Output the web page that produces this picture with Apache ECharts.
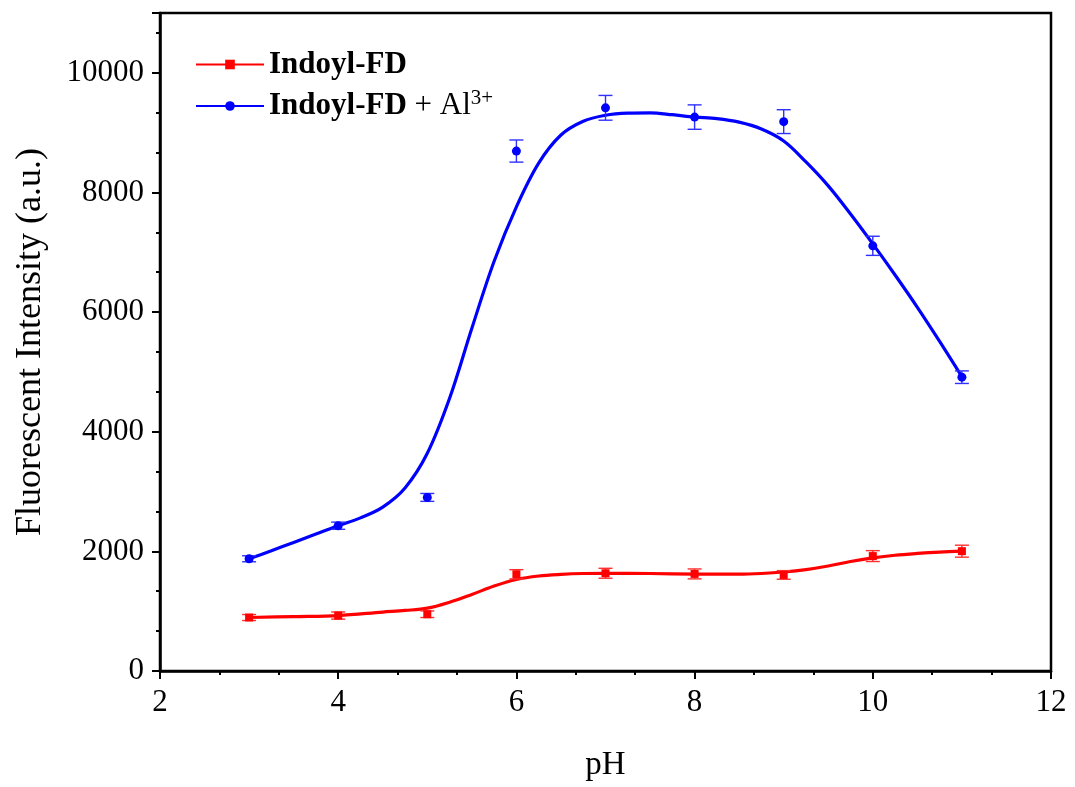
<!DOCTYPE html>
<html>
<head>
<meta charset="utf-8">
<script src="https://cdn.jsdelivr.net/npm/echarts@6/dist/echarts.min.js"></script>
<style>
html,body{margin:0;padding:0;background:#fff;}
#chart{width:1075px;height:787px;}
</style>
</head>
<body>
<div id="chart"></div>
<script>
// ---- data ----
const phValues = [3, 4, 5, 6, 7, 8, 9, 10, 11];
const fdMean = [894, 927, 949, 1617, 1634, 1623, 1606, 1921, 2003];
const fdErr  = [50, 60, 55, 77, 83, 83, 72, 91, 100];
const alMean = [1876, 2429, 2902, 8692, 9415, 9260, 9184, 7108, 4912];
const alErr  = [50, 60, 66, 185, 207, 204, 199, 160, 105];

// fitted curves
const fdCurvePH  = [3.0, 3.5, 4.0, 4.5, 4.75, 5.0, 5.25, 5.5, 5.75, 6.0, 6.25, 6.5, 6.75, 7.0, 7.5, 8.0, 8.5, 8.75, 9.0, 9.25, 9.5, 9.75, 10.0, 10.25, 10.5, 10.75, 11.0];
const fdCurveVal = [894, 910, 927, 985, 1012, 1050, 1150, 1280, 1420, 1530, 1588, 1615, 1630, 1634, 1630, 1620, 1618, 1630, 1655, 1695, 1755, 1830, 1890, 1935, 1965, 1988, 2003];
const alCurvePH  = [3.0, 3.25, 3.5, 3.75, 4.0, 4.25, 4.5, 4.75, 5.0, 5.25, 5.5, 5.75, 6.0, 6.25, 6.5, 6.75, 7.0, 7.25, 7.5, 7.75, 8.0, 8.25, 8.5, 8.75, 9.0, 9.25, 9.5, 9.75, 10.0, 10.25, 10.5, 10.75, 11.0];
const alCurveVal = [1876, 2010, 2150, 2290, 2429, 2560, 2740, 3060, 3640, 4560, 5730, 6850, 7760, 8490, 8960, 9190, 9290, 9325, 9330, 9300, 9260, 9235, 9175, 9060, 8860, 8510, 8110, 7640, 7140, 6620, 6080, 5510, 4920];

const xTicks = [2, 4, 6, 8, 10, 12];
const yTicks = [0, 2000, 4000, 6000, 8000, 10000];

const nameFD = 'Indoyl-FD';
const nameAL = 'Indoyl-FD + Al3+';
const RED = '#ff0000';
const BLUE = '#0000ff';
const FONT = '"Liberation Serif", "Times New Roman", serif';

function pairs(xs, ys) { return xs.map((x, i) => [x, ys[i]]); }
function errData(xs, m, e) { return xs.map((x, i) => [x, m[i] - e[i], m[i] + e[i]]); }

function errorBars(color) {
  return function (params, api) {
    const x = api.value(0);
    const lo = api.coord([x, api.value(1)]);
    const hi = api.coord([x, api.value(2)]);
    const w = 7;
    const st = { stroke: color, lineWidth: 1.4 };
    return {
      type: 'group',
      children: [
        { type: 'line', shape: { x1: lo[0], y1: lo[1], x2: hi[0], y2: hi[1] }, style: st },
        { type: 'line', shape: { x1: lo[0] - w, y1: lo[1], x2: lo[0] + w, y2: lo[1] }, style: st },
        { type: 'line', shape: { x1: hi[0] - w, y1: hi[1], x2: hi[0] + w, y2: hi[1] }, style: st }
      ]
    };
  };
}

const chart = echarts.init(document.getElementById('chart'), null, { renderer: 'canvas' });

const axisCommon = {
  axisLine: { show: true, onZero: false, lineStyle: { color: '#000', width: 2.5 } },
  axisTick: { show: true, inside: false, length: 8, lineStyle: { color: '#000', width: 2 } },
  minorTick: { show: true, splitNumber: 3, length: 4, lineStyle: { color: '#000', width: 2 } },
  splitLine: { show: false },
  minorSplitLine: { show: false },
  axisLabel: { color: '#000', fontFamily: FONT, fontSize: 31 },
  nameTextStyle: { color: '#000', fontFamily: FONT, fontSize: 33 }
};

chart.setOption({
  backgroundColor: '#ffffff',
  animation: false,
  grid: { left: 160, right: 24, top: 13, bottom: 111, show: true, borderColor: '#000', borderWidth: 2.5, backgroundColor: 'transparent' },
  legend: {
    show: true,
    orient: 'vertical',
    left: 190,
    top: 44,
    itemWidth: 68,
    itemHeight: 12,
    itemGap: 8,
    data: [nameFD, nameAL],
    formatter: function (n) {
      return n === nameFD ? '{b|Indoyl-FD}' : '{b|Indoyl-FD}{n| + Al}{s|3+}';
    },
    textStyle: {
      color: '#000',
      fontFamily: FONT,
      rich: {
        b: { fontFamily: FONT, fontSize: 31, fontWeight: 'bold', color: '#000', lineHeight: 36 },
        n: { fontFamily: FONT, fontSize: 31, color: '#000', lineHeight: 36 },
        s: { fontFamily: FONT, fontSize: 21, color: '#000', lineHeight: 18, verticalAlign: 'top' }
      }
    }
  },
  xAxis: Object.assign({}, axisCommon, {
    type: 'value',
    min: 2, max: 12, interval: 2,
    name: 'pH',
    nameLocation: 'middle',
    nameGap: 78,
    axisLabel: Object.assign({}, axisCommon.axisLabel, {
      margin: 16,
      customValues: xTicks,
      formatter: v => String(v)
    })
  }),
  yAxis: Object.assign({}, axisCommon, {
    type: 'value',
    min: 0, max: 11000, interval: 2000,
    name: 'Fluorescent Intensity (a.u.)',
    nameLocation: 'middle',
    nameGap: 111,
    nameTextStyle: { color: '#000', fontFamily: FONT, fontSize: 36 },
    axisLabel: Object.assign({}, axisCommon.axisLabel, {
      margin: 16,
      formatter: v => (yTicks.indexOf(v) >= 0 ? String(v) : '')
    })
  }),
  series: [
    {
      name: nameFD, type: 'line', data: pairs(fdCurvePH, fdCurveVal),
      smooth: 0.35, showSymbol: false, symbol: 'rect', symbolSize: 10,
      lineStyle: { color: RED, width: 3.2 }, itemStyle: { color: RED }, z: 3
    },
    {
      name: nameAL, type: 'line', data: pairs(alCurvePH, alCurveVal),
      smooth: 0.35, showSymbol: false, symbol: 'circle', symbolSize: 10,
      lineStyle: { color: BLUE, width: 3.2 }, itemStyle: { color: BLUE }, z: 3
    },
    {
      name: 'fd-err', type: 'custom', data: errData(phValues, fdMean, fdErr),
      renderItem: errorBars('#ff3030'), encode: { x: 0, y: [1, 2] }, z: 4
    },
    {
      name: 'al-err', type: 'custom', data: errData(phValues, alMean, alErr),
      renderItem: errorBars('#3030ff'), encode: { x: 0, y: [1, 2] }, z: 4
    },
    {
      name: 'fd-pts', type: 'scatter', data: pairs(phValues, fdMean),
      symbol: 'rect', symbolSize: 8, itemStyle: { color: RED, opacity: 1 }, z: 5
    },
    {
      name: 'al-pts', type: 'scatter', data: pairs(phValues, alMean),
      symbol: 'circle', symbolSize: 9, itemStyle: { color: BLUE, opacity: 1 }, z: 5
    }
  ]
});
</script>
</body>
</html>
